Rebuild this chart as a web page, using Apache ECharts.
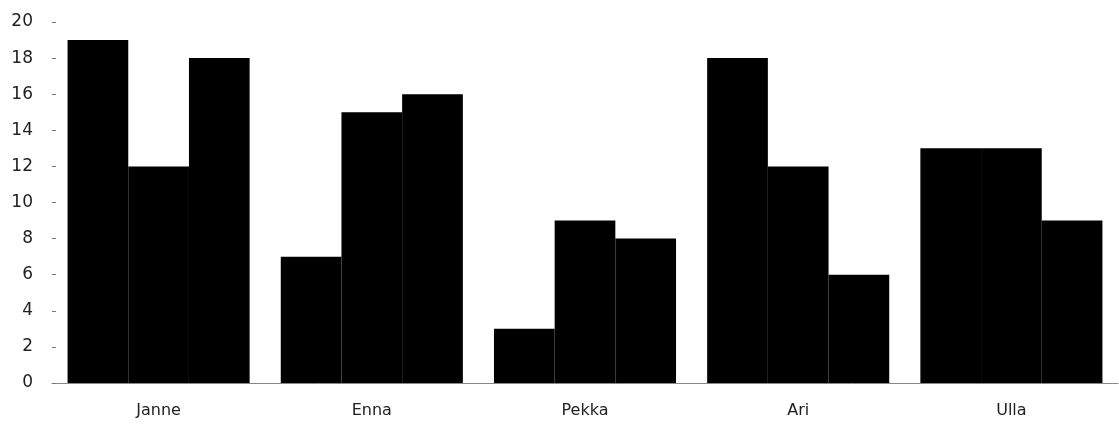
<!DOCTYPE html>
<html><head><meta charset="utf-8">
<script src="https://cdn.jsdelivr.net/npm/echarts@6/dist/echarts.min.js"></script>
<style>html,body{margin:0;padding:0;background:#fff}#c{width:1119px;height:427px}</style>
</head><body><div id="c"></div>
<script>
const categories = ['Janne', 'Enna', 'Pekka', 'Ari', 'Ulla'];
const series1 = [19, 7, 3, 18, 13];
const series2 = [12, 15, 9, 12, 13];
const series3 = [18, 16, 8, 6, 9];
const yTicks = {min: 0, max: 20, interval: 2};

const chart = echarts.init(document.getElementById('c'), null, {renderer: 'canvas'});
const mk = (d) => ({type: 'bar', data: d, barGap: '0%', barCategoryGap: '14.6%',
  itemStyle: {color: '#000', borderColor: '#000', borderWidth: 1.5}, silent: true, animation: false});
chart.setOption({
  animation: false,
  grid: {left: 52, right: 1, top: 22, bottom: 44, containLabel: false},
  xAxis: {type: 'category', data: categories,
    axisLine: {lineStyle: {color: '#888', width: 1}},
    axisTick: {show: false},
    axisLabel: {color: '#222', fontSize: 16, fontFamily: 'DejaVu Sans', margin: 20}},
  yAxis: {type: 'value', min: yTicks.min, max: yTicks.max, interval: yTicks.interval,
    splitLine: {show: false},
    axisLine: {show: false},
    axisTick: {show: true, inside: true, length: 4, lineStyle: {color: '#777'}},
    axisLabel: {color: '#222', fontSize: 17, fontFamily: 'DejaVu Sans', margin: 19}},
  series: [mk(series1), mk(series2), mk(series3)]
});
</script></body></html>
